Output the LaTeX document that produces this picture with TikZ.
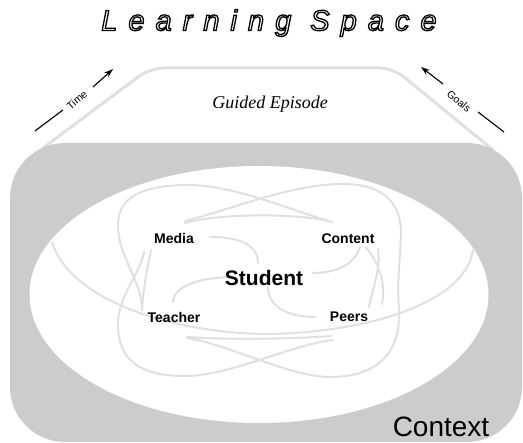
\documentclass[tikz,border=0pt]{standalone}
\usepackage{fontspec}
\setmainfont{Liberation Serif}
\newfontfamily\lsans{Liberation Sans}
\newfontfamily\titlefont[LetterSpace=38]{Liberation Sans}
\usetikzlibrary{arrows.meta}
\definecolor{ctxgray}{RGB}{204,204,204}
\definecolor{curvegray}{RGB}{224,224,224}
\tikzset{
  lnk/.style={draw=curvegray, line width=2pt, line cap=round},
  trap/.style={draw=curvegray, line width=3pt, rounded corners=14pt},
  lbl/.style={font=\lsans\bfseries\fontsize{14}{16}\selectfont, inner sep=1pt},
  axis/.style={draw=black, line width=1.1pt},
  axlbl/.style={font=\lsans\fontsize{10.5}{12}\selectfont, inner sep=0pt},
}
\begin{document}
\begin{tikzpicture}[x=1pt,y=-1pt]
\useasboundingbox (0,0) rectangle (523,443);
% title
\node (title) at (269,23) {\titlefont\itshape\fontsize{29}{33}\selectfont\special{pdf:literal direct 1 Tr 1.3 w}Learning Space\special{pdf:literal direct 0 Tr}};
% guided episode trapezoid
\draw[trap] (43,148) -- (150,68) -- (393,68) -- (493,150);
\node (episode) at (270,104) {\itshape\fontsize{18}{21}\selectfont Guided Episode};
% Time axis
\coordinate (t0) at (35,131); \coordinate (t1) at (63,110);
\coordinate (t2) at (93,87);  \coordinate (t3) at (113,69);
\draw[axis] (t0) -- (t1);
\draw[axis, -{Stealth[length=9pt,width=6pt]}] (t2) -- (t3);
\node[axlbl, rotate=40] (time) at (77,100) {Time};
% Goals axis
\coordinate (g0) at (504,132); \coordinate (g1) at (478,112);
\coordinate (g2) at (443,84);  \coordinate (g3) at (421,67);
\draw[axis] (g0) -- (g1);
\draw[axis, -{Stealth[length=9pt,width=6pt]}] (g2) -- (g3);
\node[axlbl, rotate=-40] (goals) at (459,101) {Goals};
% context
\fill[ctxgray, rounded corners=55pt] (10,143) rectangle (522,442);
\fill[white] (259,294.5) ellipse [x radius=229.5, y radius=128.5];
\node[font=\lsans\fontsize{28}{32}\selectfont, anchor=base] (context) at (441,437) {Context};
% gray curves
% big smile
\draw[lnk] (52,242) .. controls (70,300) and (170,332) .. (262,334) .. controls (360,334) and (465,305) .. (473,250);
% top flat arc
\draw[lnk] (185,223) .. controls (220,213) and (300,213) .. (332,222);
% bottom flat line
\draw[lnk] (187,337) .. controls (230,340) and (290,339) .. (332,336);
% right loop
\draw[lnk] (185,221) .. controls (235,208) and (290,185) .. (340,184) .. controls (385,183) and (402,205) .. (401,235) .. controls (400,260) and (397,280) .. (399,310) .. controls (401,350) and (380,377) .. (330,377) .. controls (290,377) and (230,345) .. (187,338);
% left loop upper part
\draw[lnk] (332,222) .. controls (285,208) and (235,186) .. (190,185) .. controls (140,185) and (118,198) .. (118,225) .. controls (118,255) and (138,275) .. (142,305);
% media connector becoming left loop lower part
\draw[lnk] (144,252) .. controls (140,275) and (118,295) .. (118,325) .. controls (118,360) and (140,376) .. (185,376) .. controls (230,376) and (290,345) .. (333,340);
% media-teacher straight connector
\draw[lnk] (151,250) .. controls (147,270) and (143,290) .. (142,310);
% content-peers crossing
\draw[lnk] (366,247) .. controls (380,265) and (386,285) .. (382,304);
\draw[lnk] (378,249) .. controls (381,270) and (372,290) .. (369,307);
% center connectors
\draw[lnk] (210,237) .. controls (240,237) and (258,245) .. (258,263);
\draw[lnk] (360,247) .. controls (355,265) and (335,273) .. (313,273);
\draw[lnk] (230,277) .. controls (195,278) and (173,288) .. (173,302);
\draw[lnk] (268,287) .. controls (268,305) and (285,317) .. (315,317);
% labels
\node[lbl] (media) at (174,239) {Media};
\node[lbl] (content) at (348,239) {Content};
\node[lbl] (teacher) at (174,317) {Teacher};
\node[lbl] (peers) at (349,317) {Peers};
\node[font=\lsans\bfseries\fontsize{21}{24}\selectfont, inner sep=1pt] (student) at (264,278) {Student};
\end{tikzpicture}
\end{document}
